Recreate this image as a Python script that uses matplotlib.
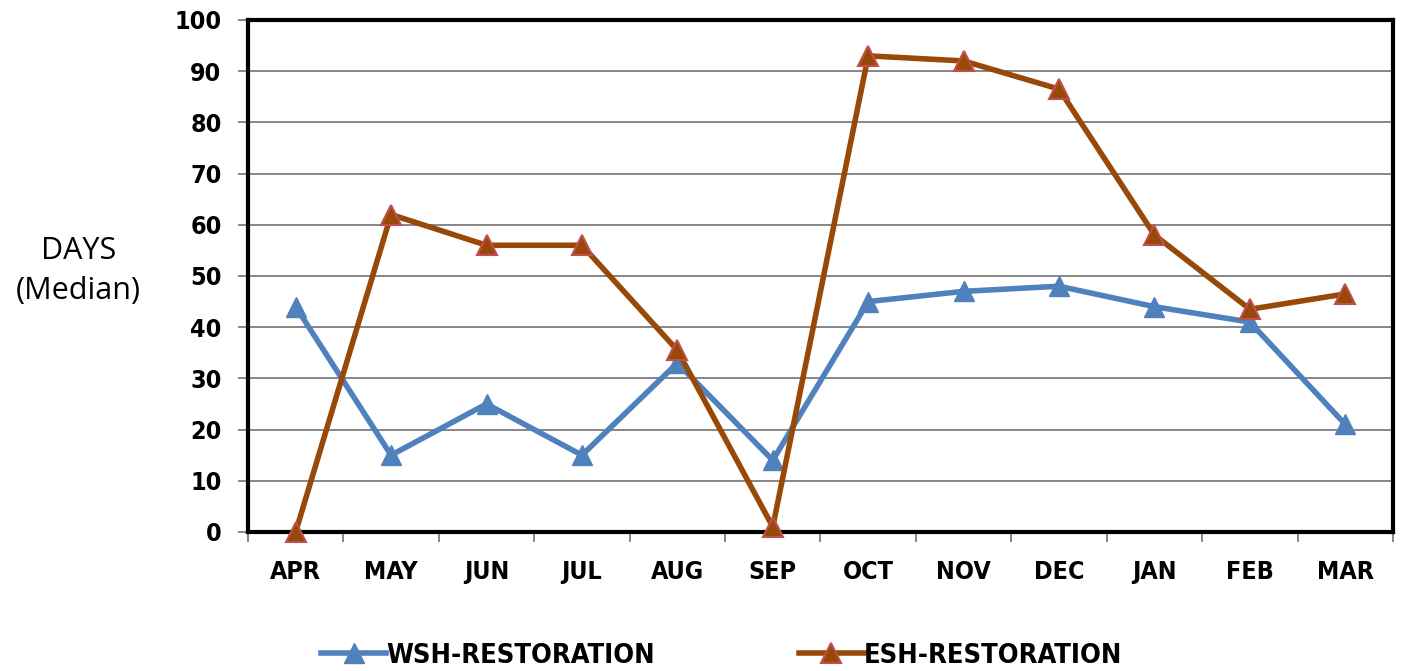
import matplotlib.pyplot as plt
import numpy as np

months = ['APR', 'MAY', 'JUN', 'JUL', 'AUG', 'SEP', 'OCT', 'NOV', 'DEC', 'JAN', 'FEB', 'MAR']
wsh = [44, 15, 25, 15, 33, 14, 45, 47, 48, 44, 41, 21]
esh = [0, 62, 56, 56, 35.5, 1, 93, 92, 86.5, 58, 43.5, 46.5]

plt.rcParams['font.family'] = ['DejaVu Sans']
plt.rcParams['font.stretch'] = 'condensed'

fig = plt.figure(figsize=(14.04, 6.71), dpi=100)
ax = fig.add_axes([0.1766, 0.2072, 0.8156, 0.7630])

x = np.arange(len(months))
ax.plot(x, wsh, color='#4F81BD', lw=4, marker='^', ms=14,
        mfc='#4F81BD', mec='#4F81BD', label='WSH-RESTORATION', zorder=3, clip_on=False)
ax.plot(x, esh, color='#984807', lw=4, marker='^', ms=14,
        mfc='#984807', mec='#C0504D', mew=1.5, label='ESH-RESTORATION', zorder=4, clip_on=False)

ax.set_xlim(-0.5, 11.5)
ax.set_ylim(0, 100)
ax.set_yticks(range(0, 101, 10))
ax.set_xticks(x)
ax.set_xticklabels(months)
ax.set_xticks(np.arange(-0.5, 12, 1), minor=True)
ax.tick_params(axis='x', which='major', length=0, pad=20)
ax.tick_params(axis='x', which='minor', length=7, width=1.4, color='#868686', direction='out')
ax.tick_params(axis='y', length=7, width=1.4, color='#868686', direction='out', pad=12)
for lab in ax.get_xticklabels() + ax.get_yticklabels():
    lab.set_fontsize(18)
    lab.set_fontweight('bold')

ax.grid(axis='y', color='#868686', lw=1.4)
ax.set_axisbelow(True)
for s in ax.spines.values():
    s.set_color('black')
    s.set_linewidth(3)

ax.set_ylabel('DAYS\n(Median)', fontsize=22, rotation=0, va='center',
              ha='center', linespacing=1.45, family=['Open Sans', 'DejaVu Sans'],
              fontstretch='normal')
ax.yaxis.set_label_coords(-0.148, 0.51)

fig.legend(loc='center', bbox_to_anchor=(0.514, 0.023), ncol=2, frameon=False,
           prop={'size': 19.5, 'weight': 'bold', 'stretch': 'condensed'},
           columnspacing=5.3, handlelength=2.4, handletextpad=0.0)

fig.savefig('out.png', dpi=100)
